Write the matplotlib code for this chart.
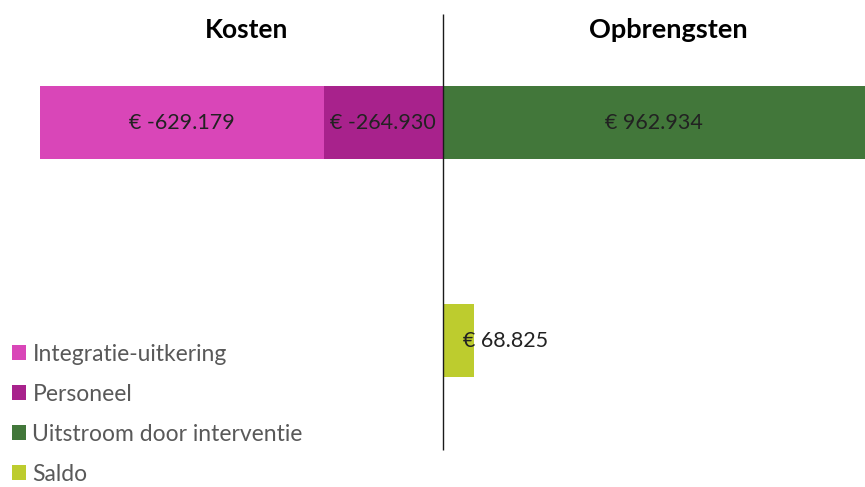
import matplotlib.pyplot as plt

plt.rcParams['font.family'] = ['Lato', 'DejaVu Sans']

# rijen: 0 = kosten/opbrengsten, 1 = saldo
rows = [0, 1]
integratie = [-629179, 0]
personeel = [-264930, 0]
uitstroom = [962934, 0]
saldo = [0, 68825]

series_names = ['Integratie-uitkering', 'Personeel', 'Uitstroom door interventie', 'Saldo']
colors = ['#D946B8', '#A8228C', '#42773A', '#BDCC2E']


def euro(v):
    if v == 0:
        return ''
    return '€ ' + f'{v:,.0f}'.replace(',', '.')


fig = plt.figure(figsize=(8.65, 4.87), dpi=100)
ax = fig.add_axes([0, 0, 1, 1])

h = 0.335
b_pers = ax.barh(rows, personeel, height=h, color=colors[1], label=series_names[1])
b_int = ax.barh(rows, integratie, left=personeel, height=h, color=colors[0], label=series_names[0])
b_uit = ax.barh(rows, uitstroom, height=h, color=colors[2], label=series_names[2])
b_sal = ax.barh(rows, saldo, height=h, color=colors[3], label=series_names[3])

lbl = dict(fontsize=15.5, color='#222222')
ax.bar_label(b_int, labels=[euro(v) for v in integratie], label_type='center', **lbl)
ax.bar_label(b_pers, labels=[euro(v) for v in personeel], label_type='center', **lbl)
ax.bar_label(b_uit, labels=[euro(v) for v in uitstroom], label_type='center', **lbl)
ax.bar_label(b_sal, labels=[euro(v) for v in saldo], label_type='edge', padding=-8, **lbl)

# categorie-as op nul
ax.vlines(0, -0.5, 1.5, color='#1a1a1a', linewidth=1)

ax.set_xlim(-982800, 936300)
ax.set_ylim(1.67, -0.564)
ax.axis('off')

fig.text(247 / 865, 1 - 30 / 487, 'Kosten', ha='center', va='center',
         fontsize=19, fontweight='bold', color='black')
fig.text(668 / 865, 1 - 30 / 487, 'Opbrengsten', ha='center', va='center',
         fontsize=19.5, fontweight='bold', color='black')

handles = [b_int, b_pers, b_uit, b_sal]
leg = fig.legend(handles, series_names, loc='lower left', bbox_to_anchor=(0.003, -0.014),
                 frameon=False, fontsize=16.5, handlelength=0.6, handleheight=0.6,
                 handletextpad=0.3, labelspacing=0.83, borderaxespad=0)
for t in leg.get_texts():
    t.set_color('#595959')

fig.savefig('out.png', dpi=100)
plt.close()
